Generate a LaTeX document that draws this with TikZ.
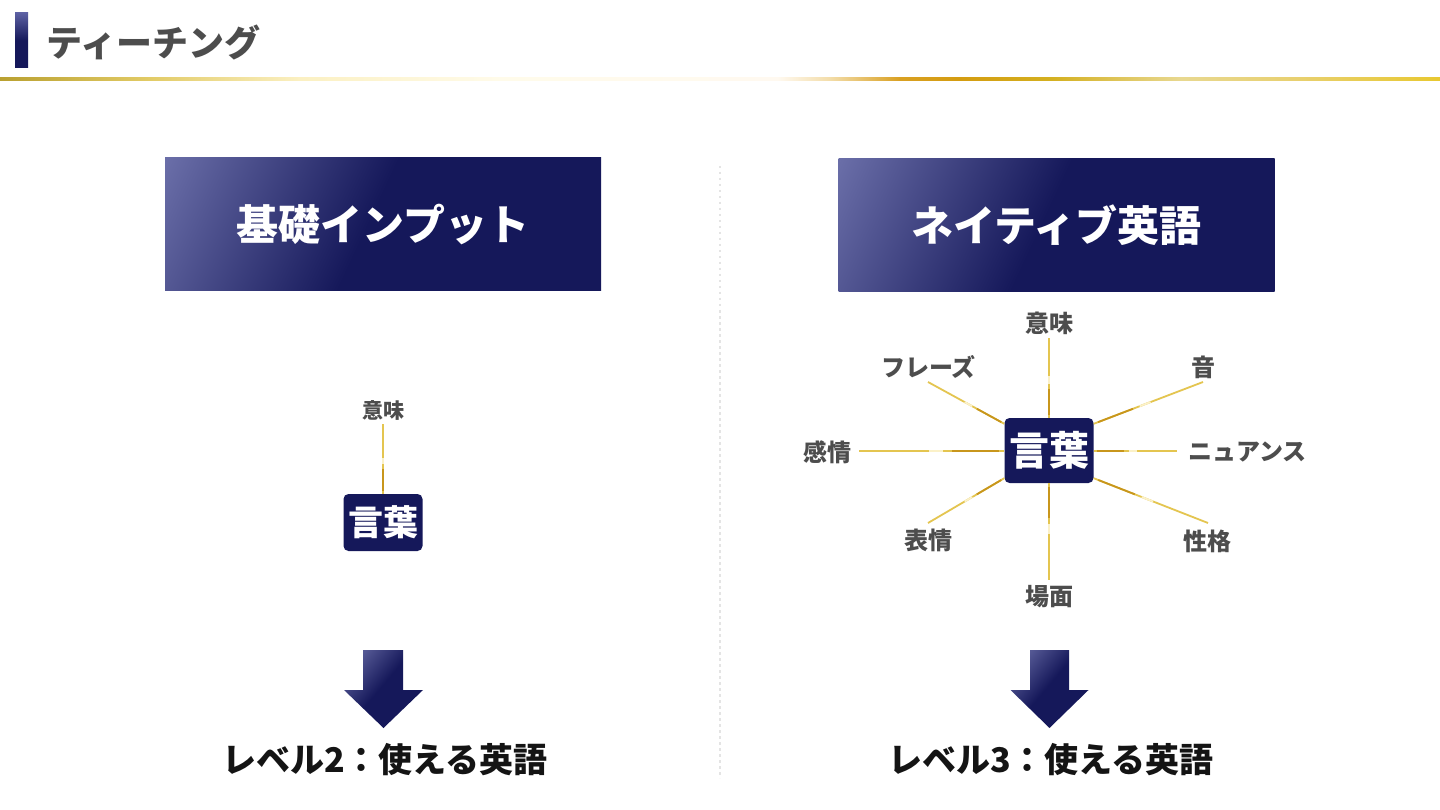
\documentclass[tikz,border=0pt]{standalone}
\usepackage{fontspec}
\setmainfont{Noto Sans CJK JP}
\usetikzlibrary{calc}
\definecolor{navyD}{HTML}{15185A}
\definecolor{navyL}{HTML}{6A6EA8}
\definecolor{hdrL}{HTML}{5C60A2}
\definecolor{txtg}{HTML}{4D4D4D}
\definecolor{goldA}{HTML}{E4C550}
\definecolor{goldD}{HTML}{C8961C}
\definecolor{goldP}{HTML}{FBF1C8}
\definecolor{divg}{HTML}{E4E4E4}
\definecolor{g1}{HTML}{B9A030}
\definecolor{g2}{HTML}{E2CB66}
\definecolor{g3}{HTML}{FBF0C2}
\definecolor{g4}{HTML}{FFFBEA}
\definecolor{g5}{HTML}{FFF9F0}
\definecolor{g6}{HTML}{F3DDAA}
\definecolor{g7}{HTML}{D9A022}
\definecolor{g8}{HTML}{D49C10}
\definecolor{g9}{HTML}{D4B020}
\definecolor{g10}{HTML}{E8D890}
\definecolor{g11}{HTML}{E8D070}
\definecolor{g12}{HTML}{E8C830}
\pgfdeclarehorizontalshading{boxsh}{100bp}{color(0bp)=(navyL); color(17bp)=(navyL); color(48bp)=(navyD); color(100bp)=(navyD)}
\pgfdeclarehorizontalshading{goldbar}{100bp}{color(0bp)=(g1); color(25bp)=(g1); color(30.2bp)=(g2); color(35.4bp)=(g3); color(42.4bp)=(g4); color(52bp)=(g5); color(53.8bp)=(g6); color(56.25bp)=(g7); color(58.3bp)=(g8); color(61.5bp)=(g9); color(66bp)=(g10); color(70bp)=(g11); color(75bp)=(g12); color(100bp)=(g12)}
\newcommand\goldlink[2]{%
  \draw[goldln] #1 -- #2;
  \draw[golddk] ($#1!0.04!#2$) -- ($#1!0.36!#2$);
  \draw[goldpl] ($#1!0.42!#2$) -- ($#1!0.52!#2$);
}
\begin{document}
\begin{tikzpicture}[x=1pt,y=-1pt,
  lbl/.style={font=\bfseries\fontsize{24}{26}\selectfont, text=txtg, inner sep=0pt},
  lbls/.style={font=\bfseries\fontsize{21}{23}\selectfont, text=txtg, inner sep=0pt},
  hdrbox/.style={shading=boxsh, shading angle=-25, minimum width=436pt, minimum height=133pt, inner sep=0pt, text=white, font=\bfseries\fontsize{42}{44}\selectfont},
  wordbox/.style={fill=navyD, rounded corners=5pt, inner sep=0pt, text=white},
  lvl/.style={font=\bfseries\fontsize{34}{36}\selectfont, text=black!92, inner sep=0pt},
  goldln/.style={draw=goldA, line width=1.8pt},
  golddk/.style={draw=goldD, line width=1.8pt},
  goldpl/.style={draw=goldP, line width=1.8pt},
  divider/.style={draw=divg, line width=2.5pt, dash pattern=on 2.5pt off 3.5pt},
  arrowsh/.style={shading=boxsh, shading angle=-40}
]
\useasboundingbox (0,0) rectangle (1440,810);
\fill[white] (0,0) rectangle (1440,810);

% header
\shade[top color=hdrL, bottom color=navyD, middle color=navyD] (15,13) rectangle (28,68);
\node[anchor=west, font=\bfseries\fontsize{36}{38}\selectfont, text=txtg, inner sep=0pt] (ttl) at (46,42) {ティーチング};
\shade[shading=goldbar] (0,77.5) rectangle (1440,80.5);

% divider
\coordinate (dvT) at (720,166);
\coordinate (dvB) at (720,778);
\draw[divider] (dvT) -- (dvB);

% heading boxes
\node[hdrbox] (hb1) at (383,224.5) {基礎インプット};
\node[hdrbox] (hb2) at (1056.5,225) {ネイティブ英語};

% left diagram
\node[wordbox, minimum width=79pt, minimum height=57pt, font=\bfseries\fontsize{35}{36}\selectfont] (w1) at (383,522.5) {言葉};
\node[lbls] (lm) at (383,410) {意味};
\coordinate (clm) at (383,424);
\goldlink{(w1.north)}{(clm)}

% right diagram
\node[wordbox, minimum width=89pt, minimum height=65pt, font=\bfseries\fontsize{40}{42}\selectfont] (w2) at (1049,450.5) {言葉};
\node[lbl] (rm) at (1049,323) {意味};
\node[lbl] (snd) at (1203,367) {音};
\node[lbl] (nua) at (1247.5,452) {ニュアンス};
\node[lbl] (per) at (1207.5,541) {性格};
\node[lbl] (scn) at (1049,597) {場面};
\node[lbl] (expr) at (928,540) {表情};
\node[lbl] (emo) at (827.5,452) {感情};
\node[lbl] (phr) at (928.5,367) {フレーズ};

\coordinate (cM) at (1049,338);
\coordinate (cS) at (1203,382);
\coordinate (cN) at (1177,451);
\coordinate (cP) at (1208,523);
\coordinate (cB) at (1049,580);
\coordinate (cE) at (928,523);
\coordinate (cF) at (859,451);
\coordinate (cH) at (928,382);
\coordinate (aUR) at ($(w2.north east)+(0,6)$);
\coordinate (aUL) at ($(w2.north west)+(0,6)$);
\coordinate (aLL) at ($(w2.south west)+(0,-5)$);
\coordinate (aLR) at ($(w2.south east)+(0,-5)$);
\coordinate (aW) at ($(w2.west)+(0,0.5)$);
\coordinate (aE) at ($(w2.east)+(0,0.5)$);

\goldlink{(w2.north)}{(cM)}
\goldlink{(aUR)}{(cS)}
\goldlink{(aE)}{(cN)}
\goldlink{(aLR)}{(cP)}
\goldlink{(w2.south)}{(cB)}
\goldlink{(aLL)}{(cE)}
\goldlink{(aW)}{(cF)}
\goldlink{(aUL)}{(cH)}

% arrows
\shade[arrowsh] (363,650) -- (403,650) -- (403,690) -- (423,690) -- (383.5,728) -- (344,690) -- (363,690) -- cycle;
\shade[arrowsh] (1030,650) -- (1069,650) -- (1069,690) -- (1088.5,690) -- (1049.5,728) -- (1010.5,690) -- (1030,690) -- cycle;

% level texts
\node[lvl] (lv2) at (385,760) {レベル2：使える英語};
\node[lvl] (lv3) at (1051,760) {レベル3：使える英語};
\end{tikzpicture}
\end{document}
